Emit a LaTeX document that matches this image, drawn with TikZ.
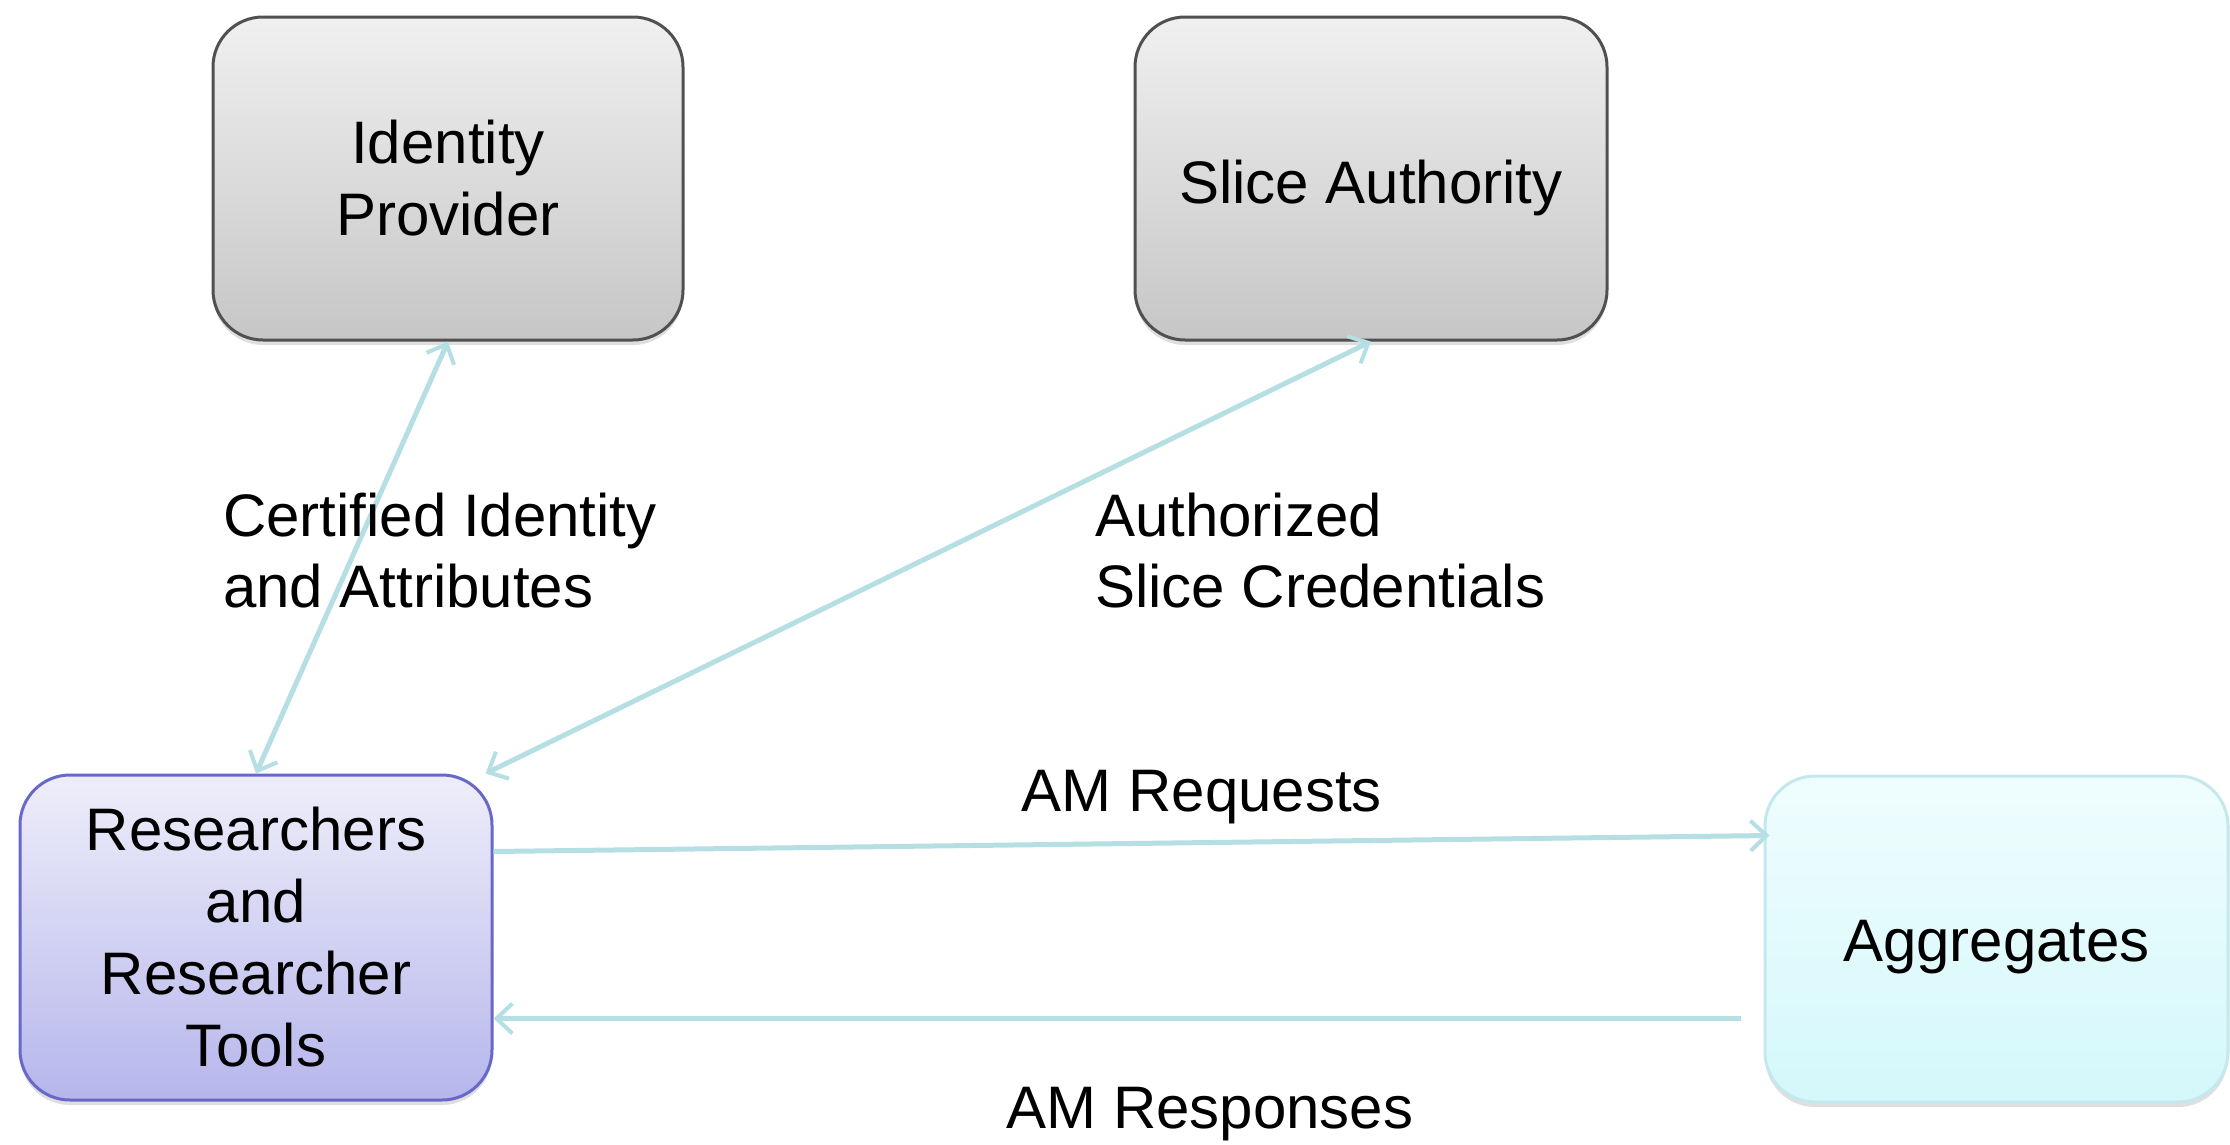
\documentclass[tikz,border=0pt]{standalone}
\usepackage{fontspec}
\setmainfont{Liberation Sans}
\usetikzlibrary{arrows.meta,shadows,calc}
\definecolor{arrowc}{HTML}{B6DFE3}
\definecolor{graytop}{HTML}{F0F0F0}
\definecolor{graybot}{HTML}{C6C6C6}
\definecolor{grayborder}{HTML}{505050}
\definecolor{bluetop}{HTML}{EEEEFA}
\definecolor{bluebot}{HTML}{B6B6EC}
\definecolor{blueborder}{HTML}{6868C8}
\definecolor{cyantop}{HTML}{F0FDFE}
\definecolor{cyanbot}{HTML}{D4F8FB}
\definecolor{cyanborder}{HTML}{C4E8EC}
\tikzset{
  box/.style={rectangle, rounded corners=50pt, line width=3pt, align=center,
    font=\fontsize{60}{72}\selectfont, inner sep=0pt,
    drop shadow={opacity=0.25, shadow xshift=0pt, shadow yshift=-5pt}},
  graybox/.style={box, draw=grayborder, top color=graytop, bottom color=graybot},
  bluebox/.style={box, draw=blueborder, top color=bluetop, bottom color=bluebot},
  cyanbox/.style={box, draw=cyanborder, top color=cyantop, bottom color=cyanbot},
  conn/.style={draw=arrowc, line width=5pt,
    arrows={-Straight Barb[length=16pt,width=30pt,line width=4pt]}},
  dconn/.style={conn, arrows={Straight Barb[length=16pt,width=30pt,line width=4pt]-Straight Barb[length=16pt,width=30pt,line width=4pt]}},
  lbl/.style={font=\fontsize{60}{71}\selectfont, align=left, inner sep=0pt}
}
\begin{document}
\begin{tikzpicture}[x=1pt,y=-1pt]
\useasboundingbox (0,0) rectangle (2230,1144);
\fill[white] (0,0) rectangle (2230,1144);
\node[graybox, minimum width=470pt, minimum height=323pt] (ip) at (448,178.5) {Identity\\Provider};
\node[graybox, minimum width=472pt, minimum height=323pt, text height=49pt, text depth=0pt] (sa) at (1371,178.5) {Slice Authority};
\node[bluebox, minimum width=472pt, minimum height=325pt] (rt) at (256,937.5) {Researchers\\and\\Researcher\\Tools};
\node[cyanbox, minimum width=463pt, minimum height=326pt, text height=44pt, text depth=0pt] (ag) at (1996.5,939) {Aggregates};

\draw[dconn] (rt.north) -- (ip.south);
\draw[dconn] ($(rt.north east)+(-8,0)$) -- (sa.south);
\coordinate (reqs) at ($(rt.north east)+(0,78)$);
\coordinate (reqe) at ($(ag.north west)+(6,61)$);
\draw[conn] (reqs) -- (reqe);
\coordinate (ress) at ($(ag.south west)+(-23,-85)$);
\coordinate (rese) at ($(rt.south east)+(0,-83)$);
\draw[conn] (ress) -- (rese);

\node[lbl, anchor=west] (l1) at (223,551) {Certified Identity\\and Attributes};
\node[lbl, anchor=west] (l2) at (1095,551) {Authorized\\Slice Credentials};
\node[lbl] (l3) at (1202,797) {AM Requests};
\node[lbl] (l4) at (1210,1114) {AM Responses};
\end{tikzpicture}
\end{document}
